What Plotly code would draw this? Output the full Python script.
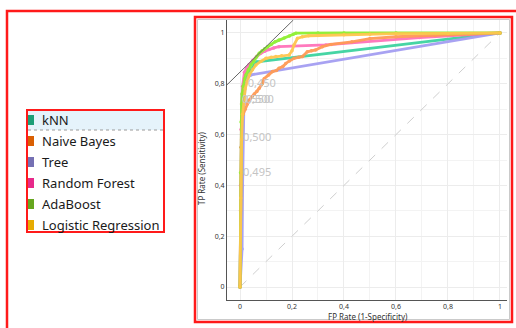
import plotly.graph_objects as go

# ---------------- data ----------------
names = ["kNN", "Naive Bayes", "Tree", "Random Forest", "AdaBoost", "Logistic Regression"]
legend_colors = ["#1b9e77", "#d95f02", "#7570b3", "#e7298a", "#66a61e", "#e6ab02"]
line_colors = ["#3dd3a0", "#ff9a55", "#a49ef2", "#ff72ba", "#8ef030", "#ffc64e"]

knn_x = [0, 0.003, 0.005, 0.008, 0.012, 0.02, 0.03, 0.042, 0.055, 0.065, 1.0]
knn_y = [0, 0.30, 0.55, 0.70, 0.76, 0.80, 0.83, 0.854, 0.875, 0.886, 1.0]

tree_x = [0, 0.008, 0.01, 0.012, 0.015, 0.02, 0.03, 0.042, 1.0]
tree_y = [0, 0.15, 0.40, 0.60, 0.72, 0.79, 0.825, 0.835, 1.0]

nb_x = [0, 0.002, 0.004, 0.006, 0.012, 0.02, 0.028, 0.035, 0.045, 0.055, 0.065, 0.074,
        0.085, 0.093, 0.11, 0.125, 0.14, 0.15, 0.165, 0.176, 0.19, 0.208, 0.225, 0.24,
        0.259, 0.275, 0.291, 0.317, 0.35, 0.43, 0.5, 0.6, 0.75, 0.88, 1.0]
nb_y = [0, 0.3, 0.55, 0.657, 0.68, 0.70, 0.72, 0.735, 0.748, 0.76, 0.77, 0.782,
        0.80, 0.82, 0.835, 0.848, 0.852, 0.861, 0.868, 0.88, 0.89, 0.9, 0.904, 0.907,
        0.926, 0.93, 0.933, 0.946, 0.955, 0.965, 0.978, 0.985, 0.99, 0.995, 1.0]

rf_x = [0, 0.002, 0.004, 0.006, 0.01, 0.017, 0.025, 0.035, 0.049, 0.065, 0.08, 0.095,
        0.112, 0.13, 0.15, 0.33, 0.69, 1.0]
rf_y = [0, 0.40, 0.62, 0.72, 0.79, 0.845, 0.862, 0.876, 0.892, 0.908, 0.92, 0.928,
        0.935, 0.941, 0.946, 0.953, 0.982, 1.0]

ada_x = [0, 0.002, 0.004, 0.006, 0.008, 0.012, 0.018, 0.023, 0.032, 0.042, 0.052, 0.063,
         0.074, 0.085, 0.095, 0.106, 0.12, 0.135, 0.15, 0.17, 0.19, 0.205, 0.215, 0.3,
         0.4, 0.6, 1.0]
ada_y = [0, 0.45, 0.65, 0.72, 0.76, 0.79, 0.82, 0.835, 0.855, 0.874, 0.888, 0.905,
         0.92, 0.93, 0.938, 0.946, 0.955, 0.965, 0.972, 0.98, 0.988, 0.995, 0.999, 1.0,
         1.0, 1.0, 1.0]

lr_x = [0, 0.003, 0.006, 0.01, 0.015, 0.02, 0.028, 0.036, 0.048, 0.061, 0.08, 0.1, 0.12,
        0.138, 0.16, 0.189, 0.2, 0.208, 0.221, 0.24, 0.264, 0.3, 0.4, 0.5, 0.6, 0.8, 1.0]
lr_y = [0, 0.35, 0.58, 0.68, 0.74, 0.78, 0.81, 0.835, 0.855, 0.874, 0.888, 0.9, 0.904,
        0.907, 0.91, 0.913, 0.93, 0.953, 0.979, 0.985, 0.989, 0.99, 0.993, 0.995, 0.997,
        0.998, 1.0]

curves_x = [knn_x, nb_x, tree_x, rf_x, ada_x, lr_x]
curves_y = [knn_y, nb_y, tree_y, rf_y, ada_y, lr_y]
draw_order = [0, 2, 3, 1, 4, 5]

diag_x = [0, 1]
diag_y = [0, 1]
iso_x = [-0.05, 0.205]
iso_y = [0.796, 1.051]

thr_labels = ["0,450", "0,550", "0,500", "0,500", "0,495"]
thr_x = [0.03, 0.008, 0.022, 0.012, 0.012]
thr_y = [0.80, 0.736, 0.736, 0.587, 0.449]

x_ticks = [0, 0.2, 0.4, 0.6, 0.8, 1]
x_tick_text = ["0", "0,2", "0,4", "0,6", "0,8", "1"]
y_ticks = [0, 0.2, 0.4, 0.6, 0.8, 1]
y_tick_text = ["0", "0,2", "0,4", "0,6", "0,8", "1"]

# ---------------- layout helpers ----------------
W, H = 516, 328
ML, MR, MT, MB = 227, 9, 20, 28
PW, PH = W - ML - MR, H - MT - MB


def xp(px):
    return (px - ML) / PW


def yp(py):
    return (H - MB - py) / PH


fig = go.Figure()

fig.add_trace(go.Scatter(x=diag_x, y=diag_y, mode="lines",
                         line=dict(color="#cfcfcf", width=1, dash="dash"),
                         showlegend=False, hoverinfo="skip"))

for i in draw_order:
    fig.add_trace(go.Scatter(x=curves_x[i], y=curves_y[i], mode="lines+markers",
                             name=names[i],
                             line=dict(color=line_colors[i], width=2.8),
                             marker=dict(color=line_colors[i], size=3.5),
                             opacity=0.95, showlegend=False))

fig.add_trace(go.Scatter(x=iso_x, y=iso_y, mode="lines",
                         line=dict(color="#666666", width=1),
                         showlegend=False, hoverinfo="skip"))

fig.add_trace(go.Scatter(x=thr_x, y=thr_y, mode="text", text=thr_labels,
                         textposition="middle right",
                         textfont=dict(family="Noto Sans", size=11, color="#c4c4c4"),
                         showlegend=False, hoverinfo="skip"))

shapes = []
annotations = []

# outer red frame
shapes.append(dict(type="rect", xref="paper", yref="paper",
                   x0=xp(7), x1=xp(530), y0=yp(11), y1=yp(340),
                   line=dict(color="#ff1a1a", width=2.5), fillcolor="rgba(0,0,0,0)", layer="above"))
# inner red frame around the plot
shapes.append(dict(type="rect", xref="paper", yref="paper",
                   x0=xp(195), x1=xp(512), y0=yp(17), y1=yp(322),
                   line=dict(color="#ff1a1a", width=2.5), fillcolor="rgba(0,0,0,0)", layer="above"))
shapes.append(dict(type="rect", xref="paper", yref="paper",
                   x0=xp(197.5), x1=xp(509.5), y0=yp(19.5), y1=yp(319.5),
                   line=dict(color="#bdbdbd", width=0.8), fillcolor="rgba(0,0,0,0)", layer="above"))

# legend box
shapes.append(dict(type="rect", xref="paper", yref="paper",
                   x0=xp(28), x1=xp(163), y0=yp(111), y1=yp(130),
                   line=dict(width=0), fillcolor="#e5f3fb", layer="below"))
shapes.append(dict(type="line", xref="paper", yref="paper",
                   x0=xp(28), x1=xp(163), y0=yp(130), y1=yp(130),
                   line=dict(color="#9a9a9a", width=1, dash="dot")))
shapes.append(dict(type="rect", xref="paper", yref="paper",
                   x0=xp(27), x1=xp(164), y0=yp(110), y1=yp(232),
                   line=dict(color="#ff1a1a", width=2), fillcolor="rgba(0,0,0,0)", layer="above"))

for k, (nm, col) in enumerate(zip(names, legend_colors)):
    cy = 120 + 21 * k
    shapes.append(dict(type="rect", xref="paper", yref="paper",
                       x0=xp(28), x1=xp(34), y0=yp(cy - 5), y1=yp(cy + 5),
                       line=dict(width=0), fillcolor=col))
    annotations.append(dict(text=nm, xref="paper", yref="paper", x=xp(40), y=yp(cy),
                            xanchor="left", yanchor="middle", showarrow=False,
                            font=dict(family="Noto Sans", size=13, color="#1a1a1a")))

# axis titles
annotations.append(dict(text="FP Rate (1-Specificity)", xref="paper", yref="paper",
                        x=xp(368), y=yp(316), xanchor="center", yanchor="middle",
                        showarrow=False, font=dict(family="Noto Sans", size=8, color="#333333")))
annotations.append(dict(text="TP Rate (Sensitivity)", xref="paper", yref="paper",
                        x=xp(201), y=yp(168), xanchor="center", yanchor="middle",
                        textangle=-90, showarrow=False,
                        font=dict(family="Noto Sans", size=8, color="#333333")))

axis_common = dict(showgrid=True, gridcolor="#ececec", gridwidth=1, zeroline=False,
                   showline=True, linecolor="#555555", linewidth=1, ticks="",
                   tickfont=dict(family="Noto Sans", size=7, color="#333333"),
                   minor=dict(dtick=0.1, showgrid=True, gridcolor="#f3f3f3", gridwidth=1))

fig.update_layout(
    width=W, height=H,
    margin=dict(l=ML, r=MR, t=MT, b=MB),
    paper_bgcolor="white", plot_bgcolor="white",
    showlegend=False,
    xaxis=dict(range=[-0.05, 1.027], tickvals=x_ticks, ticktext=x_tick_text, **axis_common),
    yaxis=dict(range=[-0.051, 1.051], tickvals=y_ticks, ticktext=y_tick_text, **axis_common),
    shapes=shapes,
    annotations=annotations,
)

fig.write_html("out.html", config={"displayModeBar": False},
               post_script="document.body.style.margin='0';document.body.style.overflow='hidden';")
